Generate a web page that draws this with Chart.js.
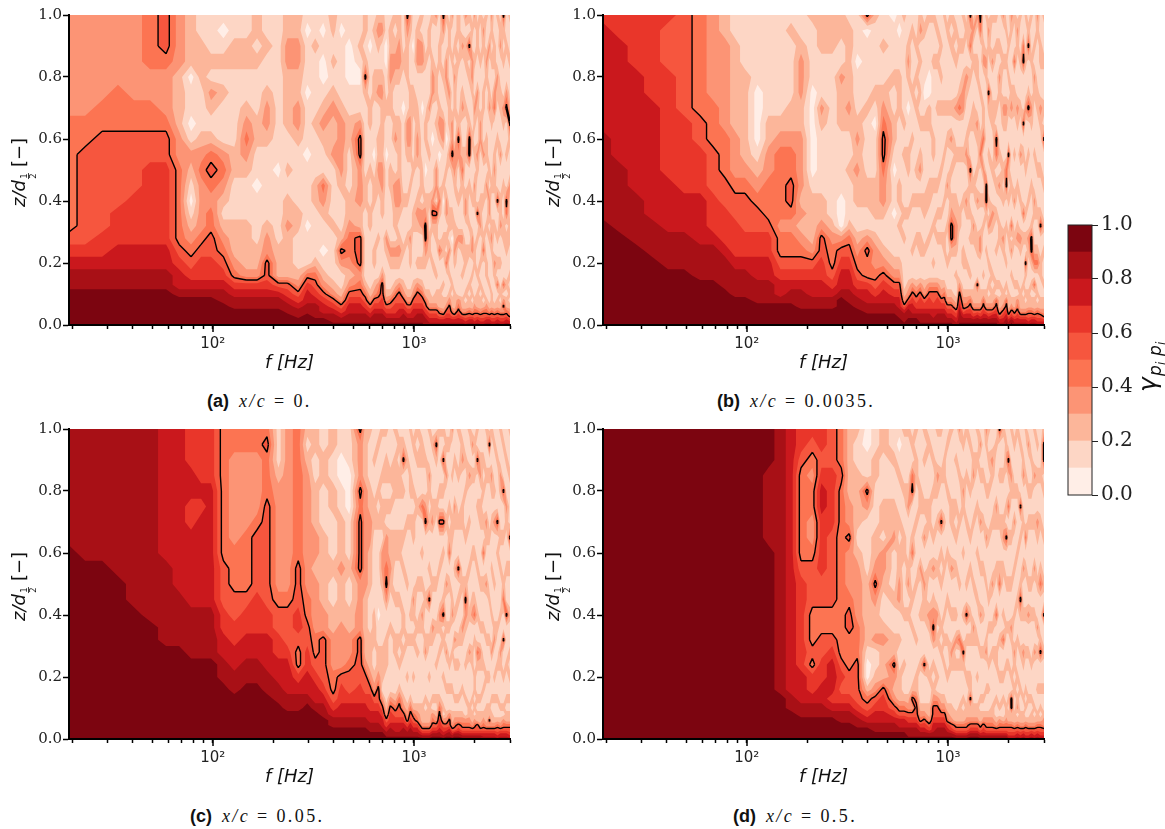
<!DOCTYPE html>
<html>
<head>
<meta charset="utf-8">
<title>Coherence maps</title>
<script src="https://cdn.jsdelivr.net/npm/chart.js@4"></script>
<style>
  body { margin: 0; background: #fff; width: 1165px; height: 829px; overflow: hidden; position: relative; }
  canvas { position: absolute; }
  .cap { position: absolute; white-space: nowrap; font: 18px "Liberation Serif", serif; letter-spacing: 2.4px; color: #111; }
  .cap b { font: bold 18px "Liberation Sans", sans-serif; letter-spacing: 0; margin-right: 3px; }
</style>
</head>
<body>
<canvas id="chartA" width="530" height="375" style="left:0;top:0"></canvas>
<canvas id="chartB" width="530" height="375" style="left:534px;top:0"></canvas>
<canvas id="chartC" width="530" height="375" style="left:0;top:414px"></canvas>
<canvas id="chartD" width="530" height="375" style="left:534px;top:414px"></canvas>
<canvas id="colorbar" width="115" height="305" style="left:1050px;top:205px"></canvas>
<div class="cap" style="left:207px;top:391px"><b>(a)</b> <i>x/c</i> = 0.</div>
<div class="cap" style="left:717px;top:391px"><b>(b)</b> <i>x/c</i> = 0.0035.</div>
<div class="cap" style="left:190px;top:806px"><b>(c)</b> <i>x/c</i> = 0.05.</div>
<div class="cap" style="left:733px;top:806px"><b>(d)</b> <i>x/c</i> = 0.5.</div>
<script>
// frequency of each column and height of each row (top of the plot first)
const freqs = [19.3, 23.2, 28.2, 33.8, 40.6, 48.8, 58.6, 68, 78, 87.5, 98, 113, 128, 147, 166, 186, 212, 235, 266, 295, 323, 354, 397, 435, 477,
  541, 573, 606, 635, 665, 696, 729, 763, 808, 846, 886, 927, 960, 992, 1039, 1100, 1140, 1193, 1235, 1293, 1338, 1401, 1449, 1500, 1552, 1590, 1663, 1741, 1803, 1886, 1953, 1998, 2067, 2139, 2215, 2293, 2373, 2430, 2510, 2600, 2690, 2785, 2881, 3000];
const zRows = [1, 0.95, 0.9, 0.85, 0.8, 0.75, 0.7, 0.65, 0.6, 0.55, 0.5, 0.45, 0.4, 0.36, 0.32, 0.28, 0.24, 0.2, 0.16, 0.13, 0.1, 0.08, 0.06, 0.045, 0.03, 0.015, 0];

// coherence: one string per frequency, one digit per z row, digit = band (0 -> 0.0-0.1 ... 9 -> 0.9-1.0)
const colsA = [
  "333333344444444567889999999", "333333344555555567889999999", "333333445555555667889999999", "333334445555566677889999999",
  "333333445555666677889999999", "444433445566666677889999999", "555433345566666677889999999", "333322223344444456778999999",
  "222201101321012345678999999", "112221112343333456678999999", "111213212454344556678999999", "101212111343212345678899999",
  "112211111221112223467889999", "112211234321112222367889999", "221211122110111122367889999", "112112332111112335567889999",
  "111111111101111122257889999", "223322221121223222256788999", "223322332111122111235678899", "101110111011110111467788999",
  "112111121112211112456788899", "101001232114321101235677899", "221212322311112111123567889", "101111233332111253112356789",
  "110001122111223443235677889",
  "112101135 533322555 345677889", "221252111 112211111 124567889", "110111221 121122111 112356789", "121122111 012211122 123567889",
  "232123112 232111211 134567889", "231123222 233221111 355667889", "110011211 011111321 112356789", "122332211 122111132 112456789",
  "212321123 113322132 124566789", "223321122 223321232 135567789", "111211011 111211121 123567889", "532221133 211211211 112356789",
  "321112233 212111322 112356789", "110112211 121122111 123567789", "123311223 311232112 135567889", "213311011 122133112 124567889",
  "111211122 101235532 112456788", "122111311 211211221 112235678", "211233110 111352112 111235678", "311122121 133152211 212235678",
  "112211232 011421141 112224578", "531121133 112011221 121223578", "211332110 121331214 111235678", "122113221 311122131 212355678",
  "311211133 521122011 121224578", "112132211 332112232 112223578", "221211125 311211311 111345678", "113112311 242111321 211223578",
  "312211211 211331122 112123568", "215121125 512112121 121224578", "121332112 111211331 212123578", "311211321 213211122 111234568",
  "122113211 321151211 212224578", "211211133 111223112 121223568", "132112211 311211241 112124568", "211321112 213112112 211234578",
  "113112311 121331211 121123578", "321211221 112112321 112224568", "112213411 232112113 211123568", "211132112 111511212 141224578",
  "123112211 311223112 112123568", "521211321 112112211 141353568", "112113511 211541221 121224578", "211211252 113112211 212123468"
];
const colsB = [
  "677777778888889999999999999", "667777777788888999999999999", "666677777777888899999999999", "666666777777778889999999999",
  "655566666667777888999999999", "555555566666777888999999999", "444444455666777788899999999", "333333444555666788899999999",
  "223333334445566678889999999", "112222223334556667888999999", "111122222234555667888999999", "111110000123455667788899999",
  "111111122334445667788899999", "111111123444443445677899999", "121111223445543445678899999", "112333223333232345678889999",
  "211110000001222235677889999", "222111321111223556677889999", "222111111111112344567889999", "221132221111000356778999999",
  "122222321121112456778899999", "111011123232211234567889999", "501111211112211354467788999", "211112101112221233456788999",
  "112112345543321123567788999",
  "011121122 101101112 356788999", "101122211 112212112 356778899", "211111121 211121211 112357889", "112321011 221121111 123578899",
  "121112112 111211121 135677899", "112121211 121211211 124567899", "231212121 231211221 135667889", "121110121 111221121 123567889",
  "211100221 112211211 135667889", "211211112 212112112 135567789", "121211211 112121211 135667889", "112121211 121121211 123567889",
  "211111211 211211221 124567889", "121111212 113112112 112356789", "212111213 121235521 112356789", "121211311 211223321 211235678",
  "112112411 211122111 135678889", "212123311 211211122 112345789", "121132112 311321112 112346789", "524121121 152121211 212456789",
  "131211221 112113211 112235689", "311221132 121311221 152235789", "541112112 411211331 112235689", "112311224 131212111 212456789",
  "211321111 115521121 112235789", "132115211 211213112 121235689", "211311221 121132111 212235789", "212111215 412121121 121456789",
  "112132111 213112211 121223578", "311211321 121211321 112235678", "121211321 145112112 121456789", "112121211 521211211 112223578",
  "321112311 112114131 211235689", "211412211 211311211 121224578", "132111321 112112311 121345678", "211211211 311211321 112223578",
  "114511151 211141211 121223578", "211211311 121121215 212123578", "125112511 211211321 112224568", "211211321 112112552 121224578",
  "112132111 211321124 141223578", "321112211 121121124 112124568", "112211321 121125112 211223568", "211211215 112112121 121223468"
];
const colsC = [
  "888888889999999999999999999", "888888888999999999999999999", "888888888999999999999999999", "888888888899999999999999999",
  "888888888888999999999999999", "888888888888899999999999999", "777777777888888999999999999", "777777777778888999999999999",
  "666776677777888899999999999", "666676777777888899999999999", "666677777777888899999999999", "444444444555667788999999999",
  "443333334445566778899999999", "443333344445667788999999999", "443333455556667788999999999", "454445555555667778899999999",
  "111233333334556677889999999", "333333333334555677788999999", "444444444555665446788999999", "212333333334455667789999999",
  "221122233233334456778999999", "112211122222335555678899999", "221122111211223334456788999", "110011222322233335667788999",
  "111000111211223345567788999",
  "533354555 533335555 667788999", "222233333 332222235 567788999", "211122332 221112223 566778899", "112112211 111222112 356778899",
  "121121211 111011223 556778899", "211212213 321111222 135677899", "212212133 453112221 112356789", "111212122 321121111 135667889",
  "212221122 112112211 124567789", "121221122 112112121 245567789", "125121121 211221211 123567889", "112111211 121112112 112346789",
  "211221211 111212111 124567889", "121121221 113212112 112456789", "212112111 121121211 112346789", "122114112 121321111 112223579",
  "112113511 112112311 121223579", "211321211 215112112 112223579", "121112311 121132111 121345689", "152112111 121121121 121235689",
  "211121511 211321211 124566789", "215121512 112512112 112135679", "121311211 131121311 211235689", "121112124 121121121 211355789",
  "311211221 112311211 211223579", "112113211 211213121 121234589", "211211211 512112121 121235689", "123112211 121132111 211234579",
  "112121121 125321121 121134579", "211311211 211211311 112234579", "131211112 112311221 121223579", "121211112 112412112 212134579",
  "215112111 211211421 121225579", "112312211 121121321 121223579", "112121214 121121121 211234578", "211211321 131112112 112223578",
  "151211121 112112112 112253578", "211321211 211211311 121223578", "121121311 121123112 121123578", "112111512 111121121 121124568",
  "211321121 211211321 112123578", "121151121 124115112 112134578", "112113211 211511121 121224578", "211211151 211211212 121224568"
];
const colsD = [
  "999999999999999999999999999", "999999999999999999999999999", "999999999999999999999999999", "999999999999999999999999999",
  "999999999999999999999999999", "999999999999999999999999999", "999999999999999999999999999", "999999999999999999999999999",
  "999999999999999999999999999", "999999999999999999999999999", "999999999999999999999999999", "999999999999999999999999999",
  "999888889999999999999999999", "888888888888888888899999999", "777777777777777777788999999", "665444444566666667778899999",
  "654344334555444546678899999", "665677666655445566778899999", "555666655555445677767899999", "444544444444444456567889999",
  "222223353334554445567889999", "211222212333344455556788999", "001153111122222100245678999", "112211122353223112356778899",
  "221112213321123222566778899",
  "112112231 112112253 235678899", "101211212 233112112 224577899", "211121122 111211121 124577899", "211123111 231211111 123567889",
  "121451124 112121111 253567889", "212211211 121112112 245567889", "111122111 311211121 112346789", "212112131 132211151 112356789",
  "121112211 211321112 112235689", "112121121 312353121 235567789", "211321211 211312112 135567889", "211211512 121121211 123567889",
  "112211211 211212121 123567889", "121121112 112112112 112346789", "211112211 311211321 112235689", "112112121 211213121 111224579",
  "311211211 121114121 112224579", "121132112 111211521 121224579", "211211211 121512112 112234579", "121121121 211212112 252235689",
  "112311211 121132111 112235689", "212112112 112112112 112235689", "131211311 211311211 121224579", "111211211 211211211 121235679",
  "321121131 121112311 211234579", "212121121 112121121 211234579", "113211211 131121211 112234579", "121113211 211411221 121123579",
  "511211211 241112112 112134579", "211211231 211214112 121124579", "123112151 121121121 112234579", "115214121 121121121 121224568",
  "211321121 121132112 155224568", "121121311 211211321 211223568", "211121112 112112112 123124578", "121115121 125211211 211223568",
  "112311211 311211321 121223578", "211211141 211211211 212124568", "131121211 121311211 121123568", "112121211 121211121 121223578",
  "211311211 311211311 112123568", "121211321 121131211 211224578", "111211211 241112511 212124568", "255121121 121511211 211233568"
];

const bandColors = ["#ffeee7", "#fdd6c5", "#fcb69a", "#fc9475", "#fc7452", "#f6563e", "#e9362a", "#ca181d", "#a81016", "#7c0510"];
const xTicks = [20, 30, 40, 50, 60, 70, 80, 90, 100, 200, 300, 400, 500, 600, 700, 800, 900, 1000, 2000, 3000];
const yTicks = [0, 0.2, 0.4, 0.6, 0.8, 1];
const cbEdges = [0, 0.1, 0.2, 0.3, 0.4, 0.5, 0.6, 0.7, 0.8, 0.9, 1];
const contourLine = 0.5;

function gridPoints(cols) {
  const pts = [];
  cols.forEach((col, i) => {
    const digits = col.replace(/ /g, "");
    zRows.forEach((z, j) => pts.push({ x: freqs[i], y: z, v: Number(digits[j]) / 10 + 0.05 }));
  });
  return pts;
}

// keep the part of a cell where the value is above the level
function clipCell(corners, level) {
  const out = [];
  corners.forEach((a, k) => {
    const b = corners[(k + 1) % corners.length];
    if (a.v >= level) out.push(a);
    if ((a.v >= level) !== (b.v >= level)) {
      const t = (level - a.v) / (b.v - a.v);
      out.push({ px: a.px + t * (b.px - a.px), py: a.py + t * (b.py - a.py), v: level });
    }
  });
  return out;
}

function cellSegments(c, level) {
  const cross = [];
  c.forEach((a, k) => {
    const b = c[(k + 1) % 4];
    if ((a.v >= level) !== (b.v >= level)) {
      const t = (level - a.v) / (b.v - a.v);
      cross.push([a.px + t * (b.px - a.px), a.py + t * (b.py - a.py)]);
    }
  });
  return cross;
}

const contourPlugin = {
  id: "contour",
  beforeDraw(chart) {
    const { ctx, chartArea: area, scales } = chart;
    const data = chart.data.datasets[0].data;
    const nz = zRows.length;
    const nodes = data.map((d) => ({ px: scales.x.getPixelForValue(d.x), py: scales.y.getPixelForValue(d.y), v: d.v }));
    ctx.save();
    ctx.beginPath();
    ctx.rect(area.left, area.top, area.right - area.left, area.bottom - area.top);
    ctx.clip();
    ctx.fillStyle = bandColors[0];
    ctx.fillRect(area.left, area.top, area.right - area.left, area.bottom - area.top);
    const cells = [];
    for (let i = 0; i < freqs.length - 1; i++) {
      for (let j = 0; j < nz - 1; j++) {
        cells.push([nodes[i * nz + j], nodes[(i + 1) * nz + j], nodes[(i + 1) * nz + j + 1], nodes[i * nz + j + 1]]);
      }
    }
    for (let k = 1; k < bandColors.length; k++) {
      ctx.beginPath();
      cells.forEach((c) => {
        const poly = clipCell(c, k / 10);
        if (poly.length < 3) return;
        ctx.moveTo(poly[0].px, poly[0].py);
        poly.slice(1).forEach((p) => ctx.lineTo(p.px, p.py));
        ctx.closePath();
      });
      ctx.fillStyle = bandColors[k];
      ctx.fill();
    }
    ctx.beginPath();
    cells.forEach((c) => {
      const cr = cellSegments(c, contourLine);
      for (let s = 0; s + 1 < cr.length; s += 2) {
        ctx.moveTo(cr[s][0], cr[s][1]);
        ctx.lineTo(cr[s + 1][0], cr[s + 1][1]);
      }
    });
    ctx.strokeStyle = "#000";
    ctx.lineWidth = 1.4;
    ctx.lineJoin = "round";
    ctx.stroke();
    ctx.restore();
  },
  afterDraw(chart) {
    const { ctx, chartArea: area, scales } = chart;
    // longer ticks for the decades
    ctx.save();
    ctx.strokeStyle = "#000";
    ctx.lineWidth = 1.5;
    [100, 1000].forEach((v) => {
      const px = Math.round(scales.x.getPixelForValue(v));
      ctx.beginPath();
      ctx.moveTo(px, area.bottom);
      ctx.lineTo(px, area.bottom + 7);
      ctx.stroke();
    });
    // y axis title with the small 1/2 fraction
    ctx.translate(25, 207);
    ctx.rotate(-Math.PI / 2);
    ctx.fillStyle = "#111";
    ctx.textBaseline = "alphabetic";
    ctx.font = "italic 18px 'DejaVu Sans'";
    ctx.fillText("z/d", 0, 0);
    let w = ctx.measureText("z/d").width;
    ctx.font = "8.5px 'DejaVu Sans'";
    ctx.textAlign = "center";
    ctx.fillText("1", w + 4, 2);
    ctx.fillText("2", w + 4, 11);
    ctx.fillRect(w + 1, 3.2, 6, 0.8);
    ctx.textAlign = "left";
    ctx.font = "18px 'DejaVu Sans'";
    ctx.fillText("[\u2212]", w + 13, 0);
    ctx.restore();
  },
};

function makePanel(id, cols) {
  return new Chart(document.getElementById(id), {
    type: "scatter",
    data: { datasets: [{ data: gridPoints(cols), pointRadius: 0, showLine: false }] },
    options: {
      responsive: false,
      animation: false,
      devicePixelRatio: 1,
      events: [],
      layout: { padding: { top: 15, right: 20 } },
      plugins: { legend: { display: false }, tooltip: { enabled: false } },
      scales: {
        x: {
          type: "logarithmic",
          min: 19.3,
          max: 3000,
          afterBuildTicks(scale) { scale.ticks = xTicks.map((v) => ({ value: v })); },
          afterFit(scale) { scale.height = 50; },
          border: { display: true, color: "#000", width: 2 },
          grid: { drawOnChartArea: false, tickLength: 4, tickColor: "#000", tickWidth: 1.5 },
          ticks: {
            autoSkip: false,
            maxRotation: 0,
            padding: 6,
            color: "#222",
            font: { family: "DejaVu Sans", size: 15 },
            callback: (v) => (v === 100 ? "10\u00b2" : v === 1000 ? "10\u00b3" : ""),
          },
          title: {
            display: true,
            text: "f [Hz]",
            color: "#111",
            font: { family: "DejaVu Sans", size: 18, style: "italic" },
            padding: { top: 0, bottom: 1 },
          },
        },
        y: {
          min: 0,
          max: 1,
          afterBuildTicks(scale) { scale.ticks = yTicks.map((v) => ({ value: v })); },
          afterFit(scale) { scale.width = 69; },
          border: { display: true, color: "#000", width: 2 },
          grid: { drawOnChartArea: false, tickLength: 6, tickColor: "#000", tickWidth: 1.5 },
          ticks: {
            padding: 1,
            color: "#222",
            font: { family: "DejaVu Serif", size: 15 },
            callback: (v) => v.toFixed(1),
          },
        },
      },
    },
    plugins: [contourPlugin],
  });
}

makePanel("chartA", colsA);
makePanel("chartB", colsB);
makePanel("chartC", colsC);
makePanel("chartD", colsD);

const colorbarPlugin = {
  id: "cbOutline",
  afterDraw(chart) {
    const { ctx, chartArea: a } = chart;
    ctx.save();
    ctx.strokeStyle = "#222";
    ctx.lineWidth = 1;
    ctx.strokeRect(a.left, a.top, a.right - a.left, a.bottom - a.top);
    ctx.translate(106, 187);
    ctx.rotate(-Math.PI / 2);
    ctx.fillStyle = "#111";
    ctx.font = "italic 25px 'DejaVu Sans'";
    ctx.fillText("\u03b3", 0, 0);
    ctx.font = "italic 17px 'DejaVu Sans'";
    ctx.fillText("p", 16, 5);
    ctx.fillText("p", 36, 5);
    ctx.font = "italic 12px 'DejaVu Sans'";
    ctx.fillText("i", 27, 9);
    ctx.fillText("j", 47, 9);
    ctx.restore();
  },
};

new Chart(document.getElementById("colorbar"), {
  type: "bar",
  data: {
    labels: ["band"],
    datasets: bandColors.map((c, i) => ({
      data: [[cbEdges[i], cbEdges[i + 1]]],
      backgroundColor: c,
      borderWidth: 0,
      grouped: false,
      barPercentage: 1,
      categoryPercentage: 1,
    })),
  },
  options: {
    responsive: false,
    animation: false,
    devicePixelRatio: 1,
    events: [],
    layout: { padding: { top: 20, bottom: 15, left: 18 } },
    plugins: { legend: { display: false }, tooltip: { enabled: false } },
    scales: {
      x: { display: false },
      y: {
        position: "right",
        min: 0,
        max: 1,
        afterBuildTicks(scale) { scale.ticks = yTicks.map((v) => ({ value: v })); },
        afterFit(scale) { scale.width = 73; },
        border: { display: false },
        grid: { drawOnChartArea: false, tickLength: 6, tickColor: "#222", tickWidth: 1 },
        ticks: {
          padding: 3,
          color: "#222",
          font: { family: "DejaVu Serif", size: 20 },
          callback: (v) => v.toFixed(1),
        },
      },
    },
  },
  plugins: [colorbarPlugin],
});
</script>
</body>
</html>
